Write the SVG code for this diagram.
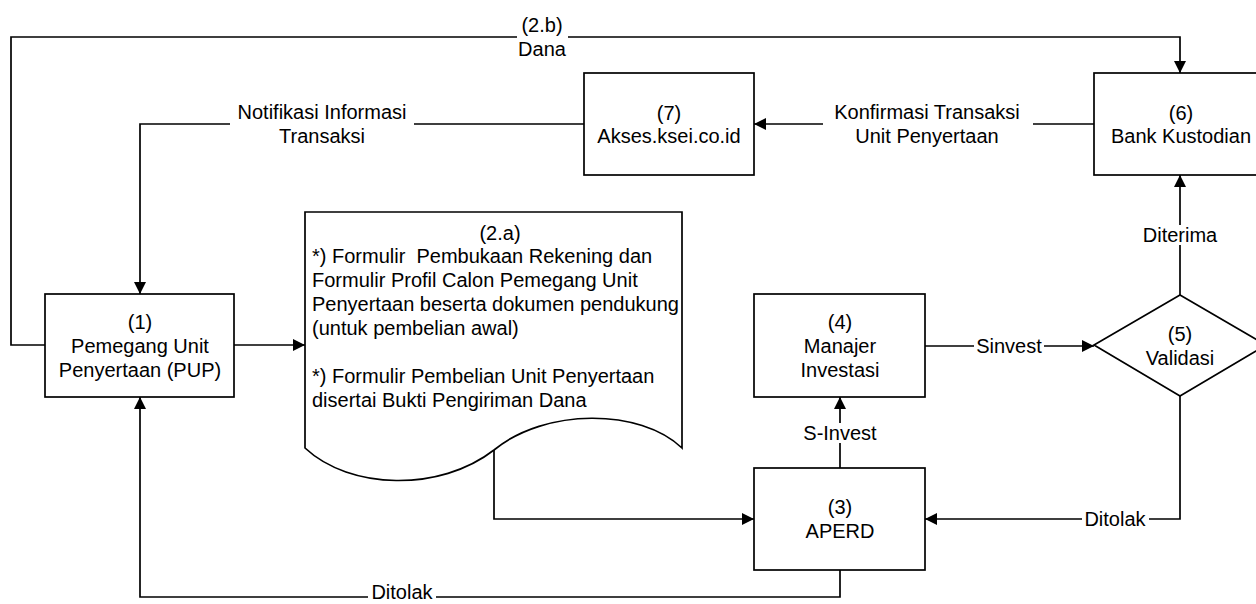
<svg xmlns="http://www.w3.org/2000/svg" width="1256" height="604" viewBox="0 0 1256 604">
<style>
text{font-family:"Liberation Sans",Arial,sans-serif;font-size:20px;fill:#000}
.c{text-anchor:middle}
.box{fill:#fff;stroke:#000;stroke-width:1.7}
.ln{fill:none;stroke:#000;stroke-width:1.7}
.bg{fill:#fff;stroke:none}
.pre{white-space:pre}
</style>
<defs>
<marker id="ah" markerUnits="userSpaceOnUse" markerWidth="13" markerHeight="13" refX="12" refY="6" orient="auto">
<path d="M0,0 L12,6 L0,12 Z" fill="#000"/>
</marker>
</defs>
<rect width="1256" height="604" fill="#fff"/>
<g id="connectors">
<path class="ln" d="M234,345 H305" marker-end="url(#ah)"/>
<path class="ln" d="M45,345 H11 V37 H1180 V73" marker-end="url(#ah)"/>
<path class="ln" d="M494,450 V519 H754" marker-end="url(#ah)"/>
<path class="ln" d="M840,468 V397" marker-end="url(#ah)"/>
<path class="ln" d="M925,346 H1094" marker-end="url(#ah)"/>
<path class="ln" d="M1180,295 V175" marker-end="url(#ah)"/>
<path class="ln" d="M1180,396 V519 H925" marker-end="url(#ah)"/>
<path class="ln" d="M840,570 V597 H140 V397" marker-end="url(#ah)"/>
<path class="ln" d="M1094,124 H754" marker-end="url(#ah)"/>
<path class="ln" d="M584,124 H140 V294" marker-end="url(#ah)"/>
<rect class="bg" x="517" y="29" width="51" height="16"/>
<text class="c" x="542" y="32">(2.b)</text>
<text class="c" x="542" y="56">Dana</text>
<rect class="bg" x="230" y="116" width="184" height="16"/>
<text class="c" x="322" y="119">Notifikasi Informasi</text>
<text class="c" x="322" y="143">Transaksi</text>
<rect class="bg" x="823" y="116" width="210" height="16"/>
<text class="c" x="927" y="119">Konfirmasi Transaksi</text>
<text class="c" x="927" y="143">Unit Penyertaan</text>
<rect class="bg" x="974" y="338" width="70" height="16"/>
<text class="c" x="1009" y="353">Sinvest</text>
<rect class="bg" x="832" y="423" width="16" height="20"/>
<text class="c" x="840" y="440">S-Invest</text>
<rect class="bg" x="1172" y="225" width="16" height="20"/>
<text class="c" x="1180" y="242">Diterima</text>
<rect class="bg" x="1082" y="511" width="67" height="16"/>
<text class="c" x="1115" y="526">Ditolak</text>
<rect class="bg" x="368" y="589" width="68" height="15"/>
<text class="c" x="402" y="599">Ditolak</text>
</g>
<g id="node-pup">
<rect class="box" x="45" y="294" width="189" height="103"/>
<text class="c" x="140" y="329">(1)</text>
<text class="c" x="140" y="353">Pemegang Unit</text>
<text class="c" x="140" y="377">Penyertaan (PUP)</text>
</g>
<g id="node-doc">
<path class="box" d="M305,448 V212 H682 V448 C640,408 545,408 494,450 C440,492 350,490 305,448 Z"/>
<text class="c" x="500" y="240">(2.a)</text>
<text class="pre" x="312" y="263">*) Formulir  Pembukaan Rekening dan</text>
<text x="312" y="287">Formulir Profil Calon Pemegang Unit</text>
<text x="312" y="311">Penyertaan beserta dokumen pendukung</text>
<text x="312" y="335">(untuk pembelian awal)</text>
<text x="312" y="383">*) Formulir Pembelian Unit Penyertaan</text>
<text x="312" y="407">disertai Bukti Pengiriman Dana</text>
</g>
<g id="node-aperd">
<rect class="box" x="754" y="468" width="171" height="102"/>
<text class="c" x="840" y="514">(3)</text>
<text class="c" x="840" y="538">APERD</text>
</g>
<g id="node-mi">
<rect class="box" x="754" y="294" width="171" height="103"/>
<text class="c" x="840" y="329">(4)</text>
<text class="c" x="840" y="353">Manajer</text>
<text class="c" x="840" y="377">Investasi</text>
</g>
<g id="node-validasi">
<path class="box" d="M1180,295 L1266,345 L1180,396 L1094,345 Z"/>
<text class="c" x="1180" y="341">(5)</text>
<text class="c" x="1180" y="365">Validasi</text>
</g>
<g id="node-bank">
<rect class="box" x="1094" y="73" width="174" height="102"/>
<text class="c" x="1181" y="120">(6)</text>
<text class="c" x="1181" y="143">Bank Kustodian</text>
</g>
<g id="node-akses">
<rect class="box" x="584" y="73" width="170" height="102"/>
<text class="c" x="669" y="120">(7)</text>
<text class="c" x="669" y="143">Akses.ksei.co.id</text>
</g>
</svg>
